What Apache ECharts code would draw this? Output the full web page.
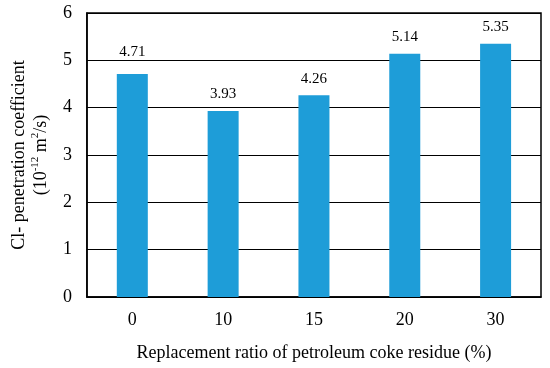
<!DOCTYPE html>
<html><head><meta charset="utf-8">
<script src="https://cdn.jsdelivr.net/npm/echarts@6/dist/echarts.min.js"></script>
<style>html,body{margin:0;padding:0;background:#fff}#c{width:550px;height:368px}</style>
</head><body><div id="c"></div>
<script>
const categories = ['0', '10', '15', '20', '30'];
const values = [4.71, 3.93, 4.26, 5.14, 5.35];
const yTicks = [0, 1, 2, 3, 4, 5, 6];
const xTitle = 'Replacement ratio of petroleum coke residue (%)';
const F = '"Liberation Serif", "Times New Roman", serif';
const chart = echarts.init(document.getElementById('c'));
chart.setOption({
  animation: false,
  grid: {left: 76, right: 9, top: 13, bottom: 71, show: true, borderColor: '#000', borderWidth: 1.5, backgroundColor: 'transparent'},
  xAxis: {
    type: 'category', data: categories,
    axisLine: {lineStyle: {color: '#000', width: 1.5}},
    axisTick: {show: false},
    axisLabel: {color: '#000', fontFamily: F, fontSize: 18, margin: 14},
    name: xTitle, nameLocation: 'middle', nameGap: 47,
    nameTextStyle: {color: '#000', fontFamily: F, fontSize: 18}
  },
  yAxis: {
    type: 'value', min: yTicks[0], max: yTicks[yTicks.length - 1], interval: 1,
    axisLine: {show: true, lineStyle: {color: '#000', width: 1.5}},
    axisTick: {show: false},
    splitLine: {lineStyle: {color: '#000', width: 1}},
    axisLabel: {color: '#000', fontFamily: F, fontSize: 18, margin: 15},
    name: '{a|Cl- penetration coefficient}\n{a|(10}{s|-12}{a| m}{s|2}{a|/s)}',
    nameLocation: 'middle', nameGap: 34, nameRotate: 90,
    nameTextStyle: {
      color: '#000', fontFamily: F, fontSize: 18, lineHeight: 22,
      rich: {
        a: {fontFamily: F, fontSize: 18, color: '#000', lineHeight: 22},
        s: {fontFamily: F, fontSize: 11, color: '#000', verticalAlign: 'top', lineHeight: 14, padding: [0, 0, 6, 0]}
      }
    }
  },
  series: [{
    type: 'bar',
    data: values.map((v, i) => i === 0 ? {value: v, label: {offset: [0, -5]}} : v),
    barWidth: 31,
    itemStyle: {color: '#1e9dd8'},
    label: {show: true, position: 'top', distance: 9, color: '#000', fontFamily: F, fontSize: 15}
  }]
});
</script></body></html>
